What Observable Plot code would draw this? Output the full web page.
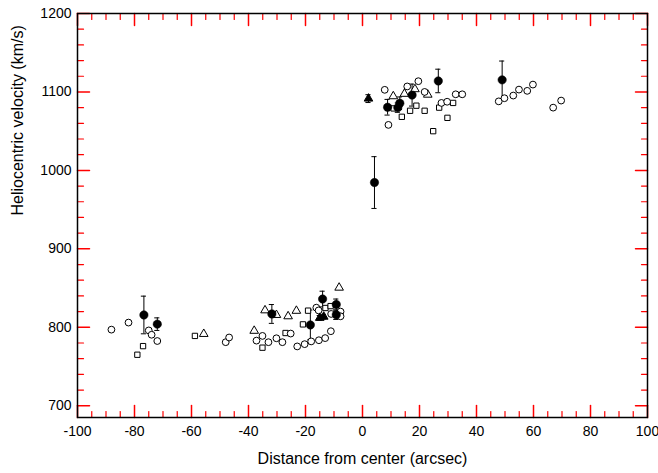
<!DOCTYPE html>
<html>
<head>
<meta charset="utf-8">
<script src="https://cdn.jsdelivr.net/npm/d3@7"></script>
<script src="https://cdn.jsdelivr.net/npm/@observablehq/plot@0.6"></script>
<style>
  html, body { margin: 0; padding: 0; background: #fff; }
  svg { font-family: "Liberation Sans", Arial, sans-serif; }
</style>
</head>
<body>
<div id="chart"></div>
<script>
// Tick values
const xTicks = [-100, -80, -60, -40, -20, 0, 20, 40, 60, 80, 100];
const yTicks = [700, 800, 900, 1000, 1100, 1200];

// Axis titles
const xTitle = "Distance from center (arcsec)";
const yTitle = "Heliocentric velocity (km/s)";

// Open circles [x, velocity]
const openCircles = [
  [-88.1, 797], [-82.1, 806], [-75, 796], [-74, 790.5], [-72, 782.5],
  [-48, 781], [-46.8, 787], [-37.2, 783], [-35.1, 789], [-33, 781],
  [-30.2, 786], [-28.1, 781], [-25.2, 792], [-22.9, 775.6], [-20.3, 778.5],
  [-18, 782], [-15.3, 783.5], [-13.1, 786.2], [-11.1, 795], [-16.2, 825],
  [-15.4, 821.5], [-11, 817], [-7.7, 820], [-7.7, 814],
  [7.8, 1102.7], [9.1, 1058], [15.7, 1107], [19.6, 1113.7], [21.8, 1100],
  [27.7, 1086], [29.7, 1087.5], [32.7, 1097], [35, 1097],
  [47.8, 1088], [49.8, 1092], [52.9, 1095.4], [54.9, 1103], [57.8, 1101.4],
  [59.8, 1109.4], [66.9, 1080], [69.7, 1089]
];

// Open squares
const openSquares = [
  [-77, 776], [-79, 765], [-58.8, 789], [-35.1, 774], [-27, 792.7],
  [-20.9, 803.7], [-19.1, 821.2], [-13, 824.6], [-11.2, 827],
  [10.9, 1079], [13.8, 1068.3], [16.7, 1076], [18.9, 1082.5], [21.8, 1076],
  [24.8, 1050], [26.9, 1080], [29.8, 1067], [31.8, 1086]
];

// Open triangles
const openTriangles = [
  [-55.7, 791.5], [-38, 795.5], [-34.2, 821.6], [-30.2, 815.7], [-26.1, 814],
  [-23.2, 821], [-8.2, 850.5], [10.8, 1094.5], [14.7, 1097.6], [18.4, 1103.5],
  [22.9, 1096.5]
];

// Filled circles with error [x, velocity, error]
const filledCircles = [
  [-76.7, 815.7, 24], [-72, 804, 8], [-31.8, 817, 12], [-18.3, 803, 19],
  [-14, 836, 10], [-9.2, 829, 7], [-9.2, 816, 6],
  [4.2, 984.5, 33], [8.8, 1080.5, 10], [12.4, 1080, 6], [13.1, 1085.6, 8],
  [17.4, 1096, 14], [26.6, 1114, 15], [49, 1115.4, 24]
];

// Filled triangles with error
const filledTriangles = [
  [2.1, 1091.5, 5], [-15, 812, 3], [-13.6, 813.5, 3]
];

const xDomain = [-100, 100], yDomain = [685, 1200];
const xMinor = d3.range(-100, 101, 5).filter(v => !xTicks.includes(v));
const yMinor = d3.range(700, 1201, 20).filter(v => !yTicks.includes(v));

const pts = a => a.map(([x, y, e]) => ({x, y, e}));
const fc = pts(filledCircles), ft = pts(filledTriangles);
const withErr = fc.concat(ft);
const capHalf = 0.9;

const W = 658, H = 473, mL = 77, mR = 11, mT = 13, mB = 56;
const majorLen = 12, minorLen = 6;
const fmt = d => String(d);
const tickFont = 14, titleFont = 16;
const tickColor = "red";

// inward ticks drawn as pixel-length vectors anchored on the frame edges
const straight = {draw(context, l) { context.moveTo(0, 0); context.lineTo(0, -l); }};
function edgeTicks(len, sw, xs, ys) {
  const o = {length: len, anchor: "start", shape: straight, stroke: tickColor, strokeWidth: sw};
  return [
    Plot.vector(xs, {...o, x: d => d, y: yDomain[0], rotate: 0}),
    Plot.vector(xs, {...o, x: d => d, y: yDomain[1], rotate: 180}),
    Plot.vector(ys, {...o, x: xDomain[0], y: d => d, rotate: 90}),
    Plot.vector(ys, {...o, x: xDomain[1], y: d => d, rotate: -90})
  ];
}

const plot = Plot.plot({
  width: W,
  height: H,
  marginLeft: mL,
  marginRight: mR,
  marginTop: mT,
  marginBottom: mB,
  x: {domain: xDomain},
  y: {domain: yDomain},
  marks: [
    Plot.axisX({anchor: "bottom", ticks: xTicks, tickSize: 0, tickPadding: 9, tickFormat: fmt, fontSize: tickFont, fill: "black", label: null}),
    Plot.axisY({anchor: "left", ticks: yTicks, tickSize: 0, tickPadding: 6, tickFormat: fmt, fontSize: tickFont, fill: "black", label: null}),
    ...edgeTicks(majorLen, 1.5, xTicks, yTicks),
    ...edgeTicks(minorLen, 1.2, xMinor, yMinor),
    Plot.frame({stroke: "#000", strokeWidth: 1.5}),
    Plot.text([xTitle], {text: d => d, frameAnchor: "bottom", dy: 46, fontSize: titleFont, fill: "black"}),
    Plot.text([yTitle], {text: d => d, frameAnchor: "left", dx: -60, rotate: -90, fontSize: titleFont, fill: "black"}),
    Plot.ruleX(withErr, {x: "x", y1: d => d.y - d.e, y2: d => d.y + d.e, stroke: "black", strokeWidth: 1}),
    Plot.ruleY(withErr, {y: d => d.y + d.e, x1: d => d.x - capHalf, x2: d => d.x + capHalf, stroke: "black", strokeWidth: 1}),
    Plot.ruleY(withErr, {y: d => d.y - d.e, x1: d => d.x - capHalf, x2: d => d.x + capHalf, stroke: "black", strokeWidth: 1}),
    Plot.dot(pts(openSquares), {x: "x", y: "y", symbol: "square", r: 3, fill: "white", stroke: "black", strokeWidth: 1}),
    Plot.dot(pts(openTriangles), {x: "x", y: "y", symbol: "triangle", r: 3.2, fill: "white", stroke: "black", strokeWidth: 1}),
    Plot.dot(pts(openCircles), {x: "x", y: "y", symbol: "circle", r: 3.4, fill: "white", stroke: "black", strokeWidth: 1}),
    Plot.dot(fc, {x: "x", y: "y", symbol: "circle", r: 4.2, fill: "black", stroke: "black", strokeWidth: 0.5}),
    Plot.dot(ft, {x: "x", y: "y", symbol: "triangle", r: 3.2, fill: "black", stroke: "black", strokeWidth: 1})
  ]
});
document.getElementById("chart").appendChild(plot);
</script>
</body>
</html>
